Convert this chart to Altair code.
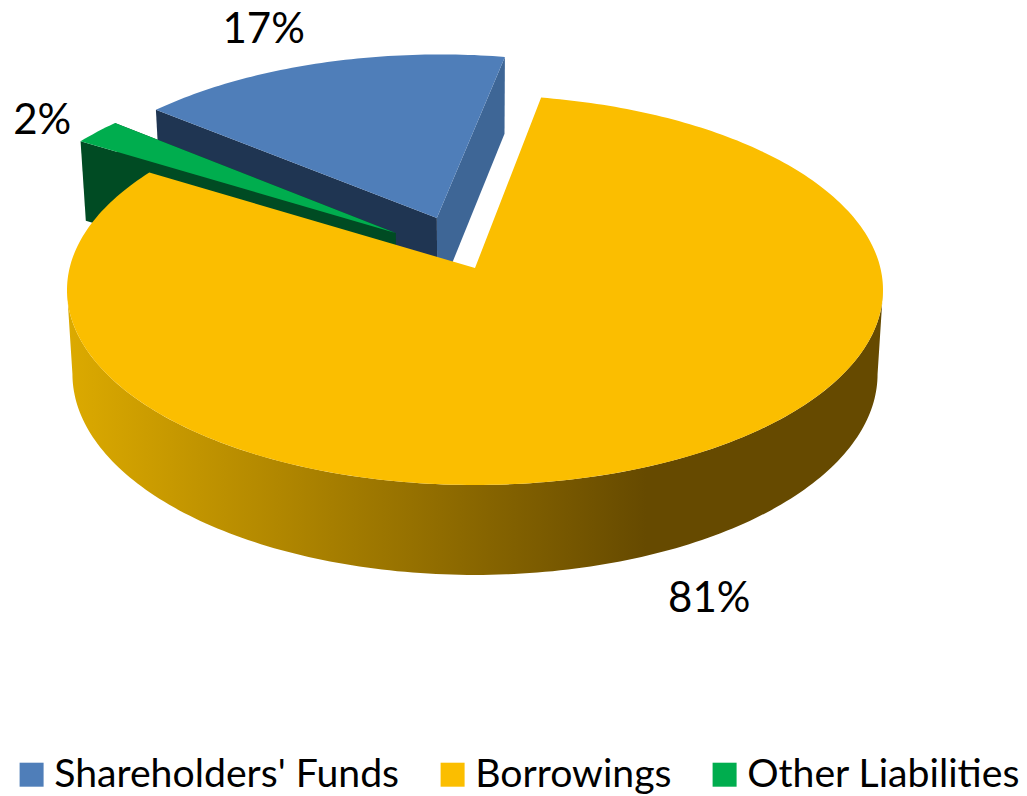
import math
import altair as alt

# ---- chart values ----
names = ["Shareholders' Funds", "Borrowings", "Other Liabilities"]
shares = [16.9, 80.9, 2.2]
labels = ["17%", "81%", "2%"]
top_colors = ["#4F7EB9", "#FBBE00", "#00AD4E"]
cut_colors_left = ["#1F3552", None, "#004B23"]
cut_colors_right = ["#3E6696", None, "#004B23"]

# ---- 3-D pie geometry: a disc in perspective ----
first_angle = -50.4           # clockwise from the back of the pie, degrees
explode = [(-0.097, 0.268), (0.0, 0.0), (-0.200, 0.186)]
label_pos = [(-0.606, 1.44), (0.484, -1.44), (-1.168, 0.835)]
CX = 475.0
TOP = dict(cy=268.0, a=405.4, b=192.5)
BOTTOM = dict(cy=351.3, a=400.0, b=198.4)
K = 0.1128
W, H = 1011, 788


def project(u, v, disc):
    w = 1 + K * v
    return CX + disc["a"] * u / w, disc["cy"] - disc["b"] * v / w


def rim(a0, a1, off=(0.0, 0.0), n=None):
    n = n or max(2, int(abs(a1 - a0)) + 1)
    pts = []
    for i in range(n + 1):
        t = math.radians(a0 + (a1 - a0) * i / n)
        pts.append((math.sin(t) + off[0], math.cos(t) + off[1]))
    return pts


def rows(points):
    return [{"x": p[0], "y": p[1], "i": i} for i, p in enumerate(points)]


x_scale = alt.Scale(domain=[8, 8 + W], range=[0, W], nice=False, zero=False)
y_scale = alt.Scale(domain=[8, 8 + H], range=[0, H], nice=False, zero=False)


def polygon(points, fill):
    return alt.Chart(alt.Data(values=rows(points))).mark_line(
        fill=fill, strokeWidth=0, interpolate="linear"
    ).encode(
        x=alt.X("x:Q", scale=x_scale, axis=None),
        y=alt.Y("y:Q", scale=y_scale, axis=None),
        order=alt.Order("i:Q"),
    )


starts = []
a = first_angle
for s in shares:
    starts.append(a)
    a += s * 3.6


def slice_layers(idx):
    a0 = starts[idx]
    a1 = a0 + shares[idx] * 3.6
    off = explode[idx]
    apex_t = project(off[0], off[1], TOP)
    apex_b = project(off[0], off[1], BOTTOM)
    pts = rim(a0, a1, off)
    layers = []
    left_t, left_b = project(*pts[0], TOP), project(*pts[0], BOTTOM)
    right_t, right_b = project(*pts[-1], TOP), project(*pts[-1], BOTTOM)
    if cut_colors_right[idx]:
        layers.append(polygon([apex_t, right_t, right_b, apex_b], cut_colors_right[idx]))
    if cut_colors_left[idx]:
        layers.append(polygon([apex_t, left_t, left_b, apex_b], cut_colors_left[idx]))
    layers.append(polygon([apex_t] + [project(u, v, TOP) for u, v in pts], top_colors[idx]))
    return layers


# yellow outer wall, between the two horizontal extremes of the discs
edge = math.degrees(math.asin(K))
wall_pts = rim(90 + edge, 270 - edge)
wall = [project(u, v, TOP) for u, v in wall_pts] + [project(u, v, BOTTOM) for u, v in reversed(wall_pts)]
wall_fill = alt.LinearGradient(
    gradient="linear", x1=0, x2=1, y1=0, y2=0,
    stops=[
        alt.GradientStop(offset=0.0, color="#DCAA00"),
        alt.GradientStop(offset=0.71, color="#664A00"),
        alt.GradientStop(offset=1.0, color="#664A00"),
    ],
)

# legend carrier, hidden below the yellow top
legend_layer = alt.Chart(alt.Data(values=[{"name": n, "x": CX, "y": TOP["cy"] + 50} for n in names])).mark_square(
    size=1, opacity=1
).encode(
    x=alt.X("x:Q", scale=x_scale, axis=None),
    y=alt.Y("y:Q", scale=y_scale, axis=None),
    color=alt.Color(
        "name:N",
        sort=names,
        scale=alt.Scale(domain=names, range=top_colors),
        legend=alt.Legend(
            title=None, orient="none", legendX=4, legendY=747, columns=3,
            symbolType="square", symbolSize=576, symbolStrokeWidth=0, symbolOpacity=1,
            labelFont="Lato", labelFontSize=39.2, labelColor="#000000", labelLimit=600,
            labelOffset=3, columnPadding=33, padding=0,
        ),
    ),
)

label_rows = []
for name, lab, (u, v) in zip(names, labels, label_pos):
    px, py = project(u, v, TOP)
    label_rows.append({"label": lab, "x": px, "y": py})
text_layer = alt.Chart(alt.Data(values=label_rows)).mark_text(
    font="Lato", fontSize=42, color="#000000", align="center", baseline="middle"
).encode(
    x=alt.X("x:Q", scale=x_scale, axis=None),
    y=alt.Y("y:Q", scale=y_scale, axis=None),
    text="label:N",
)

layers = [legend_layer]
layers += slice_layers(0)
layers += slice_layers(2)
layers.append(polygon(wall, wall_fill))
layers += slice_layers(1)
layers.append(text_layer)

chart = alt.layer(*layers).properties(
    width=W, height=H, padding=0, autosize=alt.AutoSizeParams(type="none")
).configure_view(stroke=None)

chart.save("out.html", embed_options={"renderer": "svg", "actions": False})
